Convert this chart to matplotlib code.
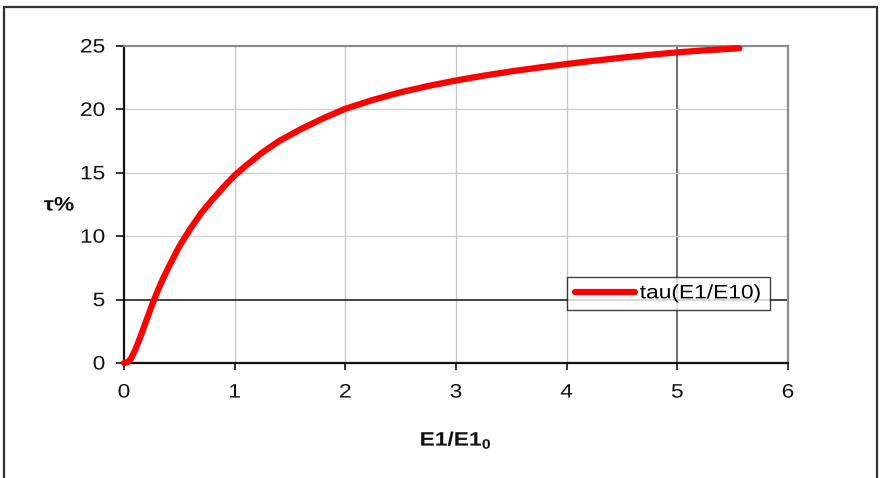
import matplotlib
matplotlib.use("Agg")
import matplotlib.pyplot as plt
from matplotlib.patches import Rectangle
from matplotlib.patheffects import AbstractPathEffect
from matplotlib.transforms import Affine2D
from matplotlib.path import Path

plt.rcParams['font.family'] = ['Liberation Sans', 'DejaVu Sans']
plt.rcParams['mathtext.fontset'] = 'custom'
plt.rcParams['mathtext.rm'] = 'Liberation Sans'
plt.rcParams['mathtext.bf'] = 'Liberation Sans:bold'

# Data
ratio = [0.0, 0.03, 0.06, 0.10, 0.15, 0.20, 0.25, 0.30, 0.35, 0.40, 0.50,
         0.60, 0.70, 0.80, 0.90, 1.00, 1.10, 1.25, 1.40, 1.60, 1.80, 2.00,
         2.25, 2.50, 2.75, 3.00, 3.25, 3.50, 3.75, 4.00, 4.25, 4.50, 4.75,
         5.00, 5.25, 5.56]
tau = [0.0, 0.05, 0.3, 1.0, 2.1, 3.3, 4.5, 5.6, 6.6, 7.5, 9.2,
       10.6, 11.85, 12.9, 13.88, 14.8, 15.55, 16.6, 17.5, 18.45, 19.3, 20.05,
       20.75, 21.35, 21.85, 22.28, 22.66, 23.0, 23.3, 23.58, 23.84, 24.08, 24.3,
       24.5, 24.66, 24.82]
xticks = [0, 1, 2, 3, 4, 5, 6]
yticks = [0, 5, 10, 15, 20, 25]
series_label = 'tau(E1/E10)'

FS = 14
SX = 1.17  # horizontal stretch of the text, as in the reference


class HStretch(AbstractPathEffect):
    def __init__(self, sx, anchor='center'):
        super().__init__()
        self.sx = sx
        self.anchor = anchor

    def draw_path(self, renderer, gc, tpath, affine, rgbFace=None):
        v = tpath.vertices
        if tpath.codes is not None:
            m = (tpath.codes != Path.CLOSEPOLY) & (tpath.codes != Path.STOP)
            v = v[m]
        if len(v) == 0:
            renderer.draw_path(gc, tpath, affine, rgbFace)
            return
        d = affine.transform(v)
        x0, x1 = d[:, 0].min(), d[:, 0].max()
        a = {'left': x0, 'right': x1}.get(self.anchor, (x0 + x1) / 2)
        t = affine + Affine2D().translate(-a, 0).scale(self.sx, 1).translate(a, 0)
        renderer.draw_path(gc, tpath, t, rgbFace)


class ExtendRight(AbstractPathEffect):
    def __init__(self, text, sx):
        super().__init__()
        self.text = text
        self.sx = sx

    def draw_path(self, renderer, gc, tpath, affine, rgbFace=None):
        w = self.text.get_window_extent(renderer).width
        dx = (self.sx - 1) * w
        d = affine.transform(tpath.vertices)
        x0, x1 = d[:, 0].min(), d[:, 0].max()
        s = 1 + dx / max(x1 - x0, 1)
        t = affine + Affine2D().translate(-x0, 0).scale(s, 1).translate(x0, 0)
        renderer.draw_path(gc, tpath, t, rgbFace)


fig = plt.figure(figsize=(8.84, 4.78), dpi=100)
ax = fig.add_axes([124/884, 115/478, 664/884, 317/478])

# outer chart border
fig.patches.append(Rectangle((4/884, -0.02), 873/884, (478-7)/478 + 0.02,
                             transform=fig.transFigure, fill=False,
                             edgecolor='#333333', linewidth=1.6, clip_on=False))

ax.set_xlim(0, 6)
ax.set_ylim(0, 25)
ax.set_xticks(xticks)
ax.set_yticks(yticks)

for x in xticks[1:-1]:
    ax.axvline(x, color='#555555' if x == 5 else '#c8c8c8', linewidth=1.2 if x == 5 else 1.0, zorder=0)
for y in yticks[1:-1]:
    ax.axhline(y, color='#222222' if y == 5 else '#d0d0d0', linewidth=1.2 if y == 5 else 1.0, zorder=0)

ax.plot(ratio, tau, color='#ff0000', linewidth=4.5, solid_capstyle='round',
        solid_joinstyle='round', label=series_label, zorder=3, clip_on=False)

for s in ['top', 'right']:
    ax.spines[s].set_color('#8c8c8c')
    ax.spines[s].set_linewidth(1.6)
for s in ['left', 'bottom']:
    ax.spines[s].set_color('#111111')
    ax.spines[s].set_linewidth(1.6)

ax.tick_params(axis='both', direction='out', width=1.2, colors='#111111',
               labelsize=FS, labelcolor='#111111')
ax.tick_params(axis='y', pad=8, length=5.5)
ax.tick_params(axis='x', pad=10.5, length=5)

for lab in ax.get_yticklabels():
    lab.set_path_effects([HStretch(SX, 'right')])
for lab in ax.get_xticklabels():
    lab.set_path_effects([HStretch(SX, 'center')])

xl = ax.set_xlabel(r'$\mathbf{E1/E1_0}$', fontsize=FS, labelpad=21, color='#111111')
xl.set_path_effects([HStretch(SX, 'center')])
yl = fig.text(59/884, 1 - 206/478, 'τ%', fontsize=FS, fontweight='bold',
              ha='center', va='center', color='#111111')
yl.set_path_effects([HStretch(SX, 'center')])

leg = ax.legend(loc='center left', bbox_to_anchor=(0.667, 0.219), frameon=True, fancybox=False,
                edgecolor='#111111', fontsize=FS, handlelength=3.1, handletextpad=0.25,
                borderpad=0.4, borderaxespad=0)
leg.get_frame().set_linewidth(1.0)
ltxt = leg.get_texts()[0]
ltxt.set_path_effects([HStretch(SX, 'left')])
leg.get_frame().set_path_effects([ExtendRight(ltxt, SX)])

fig.savefig('out.png', dpi=100)
